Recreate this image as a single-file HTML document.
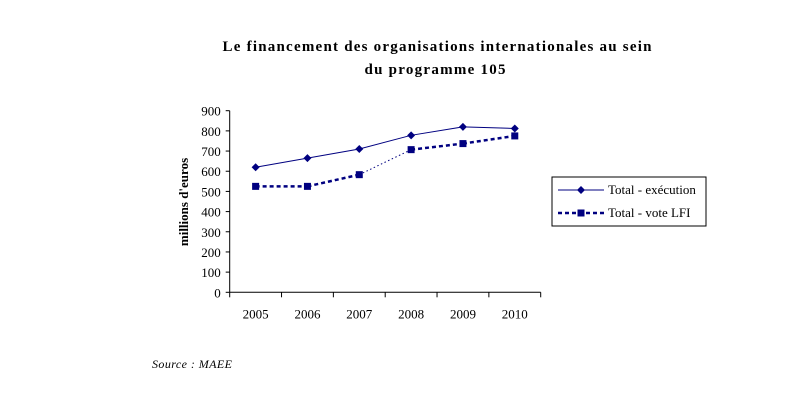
<!DOCTYPE html>
<html><head><meta charset="utf-8"><style>
body{margin:0;background:#fff;width:794px;height:401px;overflow:hidden}
text{font-family:"Liberation Serif",serif}
</style></head><body>
<svg id="c" width="794" height="401" xmlns="http://www.w3.org/2000/svg">
<text x="437" y="51" text-anchor="middle" font-size="15" font-weight="bold" textLength="429" lengthAdjust="spacing">Le financement des organisations internationales au sein</text>
<text x="435" y="74" text-anchor="middle" font-size="15" font-weight="bold" textLength="141" lengthAdjust="spacing">du programme 105</text>
<text transform="translate(188,202) rotate(-90)" text-anchor="middle" font-size="13" font-weight="bold">millions d'euros</text>
<text x="152" y="368" font-size="12" font-style="italic" textLength="80" lengthAdjust="spacing">Source : MAEE</text>
<g id="axes"></g><g id="series"></g>
<g>
<rect x="552" y="177" width="154" height="49" fill="#fff" stroke="#000" stroke-width="1"/>
<line x1="558" y1="190" x2="604" y2="190" stroke="#000080" stroke-width="1"/>
<path d="M581 186 L585 190 L581 194 L577 190Z" fill="#000080"/>
<text x="608" y="194" font-size="13">Total - exécution</text>
<line x1="558" y1="213" x2="604" y2="213" stroke="#000080" stroke-width="2.5" stroke-dasharray="4,3"/>
<rect x="577.5" y="209.5" width="7" height="7" fill="#000080"/>
<text x="608" y="217" font-size="13">Total - vote LFI</text>
</g>
</svg>
<script>
const categories=["2005","2006","2007","2008","2009","2010"];
const execution=[620,665,710,778,820,812];
const voteLFI=[525,525,583,707,737,775];
const yTicks=[0,100,200,300,400,500,600,700,800,900];
const NS="http://www.w3.org/2000/svg";
const X0=229.7,X1=540.7,Y0=292.3,Y1=110.7,YMAX=900;
const bw=(X1-X0)/categories.length;
const xs=i=>X0+bw*(i+0.5);
const ys=v=>Y0-(v/YMAX)*(Y0-Y1);
function mk(t,a,p){const e=document.createElementNS(NS,t);for(const k in a)e.setAttribute(k,a[k]);p.appendChild(e);return e;}
const ax=document.getElementById('axes');
const yl=mk('line',{x1:X0,y1:Y1,x2:X0,y2:Y0,stroke:'#000'},ax);


const xl=mk('line',{x1:X0,y1:Y0,x2:X1,y2:Y0,stroke:'#000'},ax);


yTicks.forEach(v=>{const y=ys(v);mk('line',{x1:X0-4,y1:y,x2:X0,y2:y,stroke:'#000'},ax);
const t=mk('text',{x:X0-9,y:y+5,'text-anchor':'end','font-size':13},ax);t.textContent=v;

});
for(let i=0;i<=categories.length;i++){const x=X0+bw*i;mk('line',{x1:x,y1:Y0,x2:x,y2:Y0+5,stroke:'#000'},ax);}
categories.forEach((c,i)=>{const t=mk('text',{x:xs(i),y:Y0+26,'text-anchor':'middle','font-size':13},ax);t.textContent=c;

});
const sg=document.getElementById('series');
const p1=mk('polyline',{points:execution.map((v,i)=>xs(i)+','+ys(v)).join(' '),fill:'none',stroke:'#000080','stroke-width':1},sg);


for(let i=0;i<voteLFI.length-1;i++){const thin=(i===2);
const s=mk('line',{x1:xs(i),y1:ys(voteLFI[i]),x2:xs(i+1),y2:ys(voteLFI[i+1]),stroke:'#000080','stroke-width':thin?1:2.5,'stroke-dasharray':thin?'1.5,2.5':'4,3'},sg);

}
execution.forEach((v,i)=>{const x=xs(i),y=ys(v);const m=mk('path',{d:`M${x} ${y-4}L${x+4} ${y}L${x} ${y+4}L${x-4} ${y}Z`,fill:'#000080'},sg);

});
voteLFI.forEach((v,i)=>{const m=mk('rect',{x:xs(i)-3.5,y:ys(v)-3.5,width:7,height:7,fill:'#000080'},sg);

});
</script>
</body></html>
